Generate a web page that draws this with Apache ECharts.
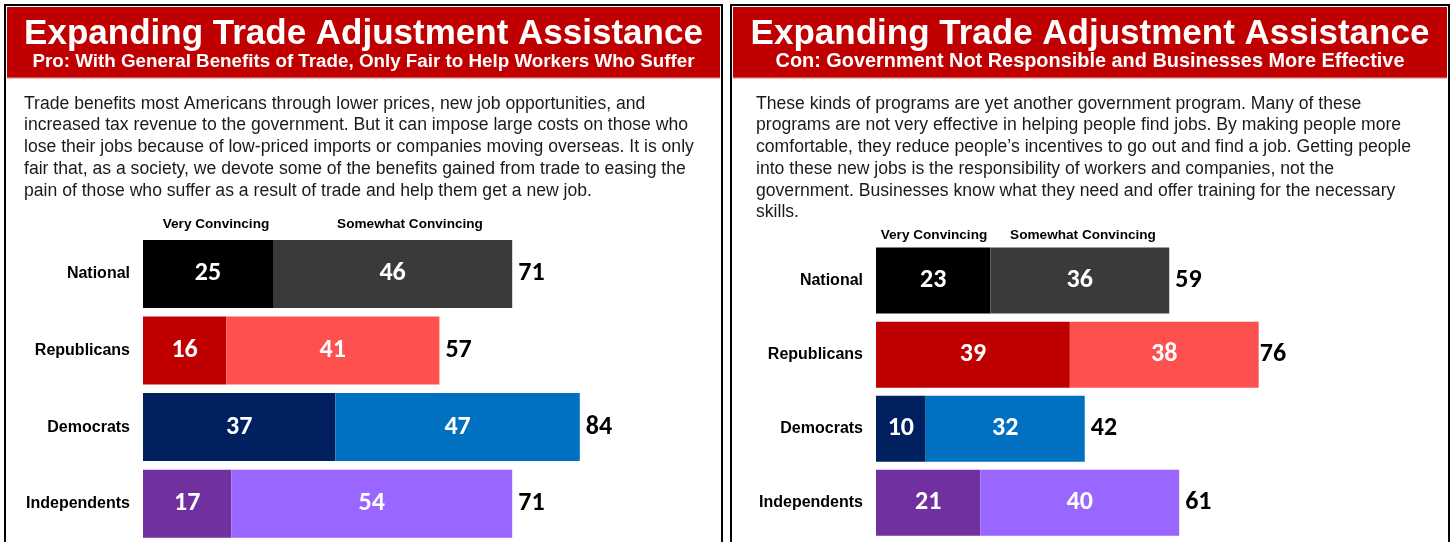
<!DOCTYPE html>
<html>
<head>
<meta charset="utf-8">
<script src="https://cdn.jsdelivr.net/npm/echarts@6/dist/echarts.min.js"></script>
<style>
  html, body { margin: 0; padding: 0; background: #ffffff; }
  #chart { width: 1455px; height: 542px; }
</style>
</head>
<body>
<div id="chart"></div>
<script>
// Survey groups, top to bottom
const categories = ['National', 'Republicans', 'Democrats', 'Independents'];

// Pro argument: share finding it very / somewhat convincing, and the combined figure
const proVery = [25, 16, 37, 17];
const proSomewhat = [46, 41, 47, 54];
const proTotal = [71, 57, 84, 71];

// Con argument
const conVery = [23, 39, 10, 21];
const conSomewhat = [36, 38, 32, 40];
const conTotal = [59, 76, 42, 61];

const legendNames = ['Very Convincing', 'Somewhat Convincing'];

// Per-group palettes: dark shade for "very", light shade for "somewhat"
const veryColors = ['#000000', '#c00000', '#002060', '#7030a0'];
const somewhatColors = ['#3b3a39', '#ff5050', '#0070c0', '#9966ff'];

const titleText = 'Expanding Trade Adjustment Assistance';
const proSubtitle = 'Pro: With General Benefits of Trade, Only Fair to Help Workers Who Suffer';
const conSubtitle = 'Con: Government Not Responsible and Businesses More Effective';

const proBody = [
  'Trade benefits most Americans through lower prices, new job opportunities, and',
  'increased tax revenue to the government. But it can impose large costs on those who',
  'lose their jobs because of low-priced imports or companies moving overseas. It is only',
  'fair that, as a society, we devote some of the benefits gained from trade to easing the',
  'pain of those who suffer as a result of trade and help them get a new job.'
];
const conBody = [
  'These kinds of programs are yet another government program. Many of these',
  'programs are not very effective in helping people find jobs. By making people more',
  'comfortable, they reduce people\u2019s incentives to go out and find a job. Getting people',
  'into these new jobs is the responsibility of workers and companies, not the',
  'government. Businesses know what they need and offer training for the necessary',
  'skills.'
];

const SANS = '"Liberation Sans", Arial, sans-serif';
const NUM = 'Carlito, Lato, "Open Sans", sans-serif';

const chart = echarts.init(document.getElementById('chart'), null, { renderer: 'canvas' });

function panelGraphics(p) {
  const cx = (p.x0 + p.x1) / 2;
  return [
    { type: 'rect', shape: { x: p.x0, y: 5, width: p.x1 - p.x0, height: 560 },
      style: { fill: '#ffffff', stroke: '#000000', lineWidth: 2 }, z: 0 },
    { type: 'rect', shape: { x: p.x0 + 2, y: 7, width: p.x1 - p.x0 - 4, height: 71 },
      style: { fill: '#c00000' }, z: 1 },
    { type: 'rect', shape: { x: p.x0 + 2, y: 77.5, width: p.x1 - p.x0 - 4, height: 1.2 },
      style: { fill: '#e6a3a3' }, z: 1 },
    { type: 'text', x: cx, y: 34, z: 2,
      style: { text: titleText, fill: '#ffffff', font: 'bold 35px ' + SANS,
               textAlign: 'center', textVerticalAlign: 'middle' } },
    { type: 'text', x: cx, y: 62, z: 2,
      style: { text: p.subtitle, fill: '#ffffff', font: 'bold ' + p.subSize + 'px ' + SANS,
               textAlign: 'center', textVerticalAlign: 'middle' } },
    { type: 'text', x: p.bodyX, y: 93, z: 2,
      style: { text: p.body.join('\n'), fill: '#1a1a1a', font: '17.6px ' + SANS,
               lineHeight: 21.7, textAlign: 'left', textVerticalAlign: 'top' } },
    { type: 'text', x: p.veryX, y: p.legendY, z: 2,
      style: { text: legendNames[0], fill: '#000000', font: 'bold 13.6px ' + SANS,
               textAlign: 'center', textVerticalAlign: 'middle' } },
    { type: 'text', x: p.someX, y: p.legendY, z: 2,
      style: { text: legendNames[1], fill: '#000000', font: 'bold 13.6px ' + SANS,
               textAlign: 'center', textVerticalAlign: 'middle' } }
  ];
}

function stackedSeries(gridIndex, very, somewhat, total, barWidth) {
  const inside = {
    show: true, position: 'inside', color: '#ffffff',
    fontFamily: NUM, fontWeight: 'bold', fontSize: 26
  };
  return [
    {
      type: 'bar', name: legendNames[0], stack: 'g' + gridIndex,
      xAxisIndex: gridIndex, yAxisIndex: gridIndex, barWidth: barWidth,
      data: very.map((v, i) => ({ value: v, itemStyle: { color: veryColors[i] } })),
      label: inside, silent: true
    },
    {
      type: 'bar', name: legendNames[1], stack: 'g' + gridIndex,
      xAxisIndex: gridIndex, yAxisIndex: gridIndex, barWidth: barWidth,
      data: somewhat.map((v, i) => ({ value: v, itemStyle: { color: somewhatColors[i] } })),
      label: inside, silent: true
    },
    {
      type: 'scatter', name: 'Total',
      xAxisIndex: gridIndex, yAxisIndex: gridIndex,
      symbolSize: 0, silent: true,
      itemStyle: { opacity: 1, color: '#000000' },
      data: total.map((v, i) => [v, categories[i]]),
      label: {
        show: true, position: 'right', distance: 6, opacity: 1,
        formatter: p => p.value[0],
        color: '#000000', fontFamily: NUM, fontWeight: 'bold', fontSize: 26
      }
    }
  ];
}

const yAxisBase = {
  type: 'category', data: categories, inverse: true,
  axisLine: { show: false }, axisTick: { show: false }, splitLine: { show: false },
  axisLabel: { color: '#000000', fontFamily: SANS, fontWeight: 'bold', fontSize: 16, margin: 13 }
};
const xAxisBase = { type: 'value', min: 0, max: 100, show: false, splitLine: { show: false } };

chart.setOption({
  animation: false,
  backgroundColor: '#ffffff',
  graphic: {
    elements: [].concat(
      panelGraphics({ x0: 5, x1: 722, subtitle: proSubtitle, subSize: 18.8, body: proBody,
                      bodyX: 24, legendY: 224, veryX: 216, someX: 410 }),
      panelGraphics({ x0: 731, x1: 1449, subtitle: conSubtitle, subSize: 19.9, body: conBody,
                      bodyX: 756, legendY: 235, veryX: 934, someX: 1083 })
    )
  },
  grid: [
    { left: 143, top: 235.6, width: 520, height: 307.2, containLabel: false },
    { left: 876, top: 243.5, width: 497, height: 296.4, containLabel: false }
  ],
  xAxis: [
    Object.assign({ gridIndex: 0 }, xAxisBase),
    Object.assign({ gridIndex: 1 }, xAxisBase)
  ],
  yAxis: [
    Object.assign({ gridIndex: 0 }, yAxisBase),
    Object.assign({ gridIndex: 1 }, yAxisBase)
  ],
  series: [].concat(
    stackedSeries(0, proVery, proSomewhat, proTotal, 68),
    stackedSeries(1, conVery, conSomewhat, conTotal, 66)
  )
});
</script>
</body>
</html>
